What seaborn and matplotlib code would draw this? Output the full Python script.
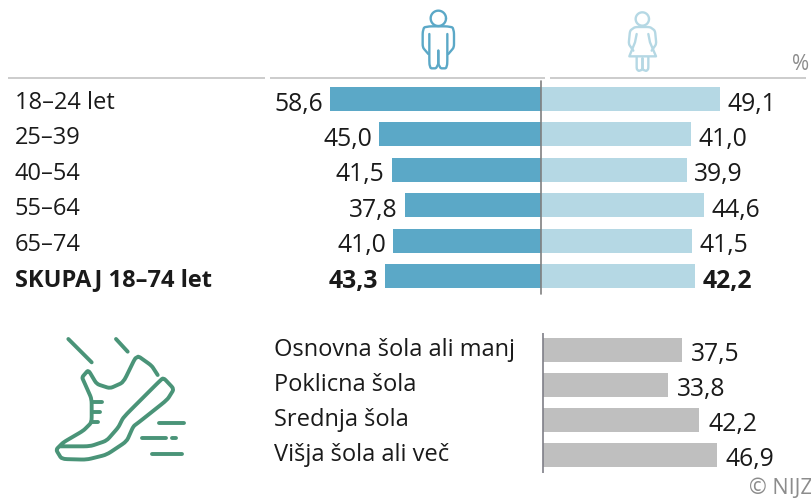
import numpy as np
import pandas as pd
import matplotlib
matplotlib.use("Agg")
import matplotlib.pyplot as plt
from matplotlib.transforms import Affine2D
import seaborn as sns

age_groups = ["18–24 let", "25–39", "40–54", "55–64", "65–74", "SKUPAJ 18–74 let"]
men = [58.6, 45.0, 41.5, 37.8, 41.0, 43.3]
women = [49.1, 41.0, 39.9, 44.6, 41.5, 42.2]
education = ["Osnovna šola ali manj", "Poklicna šola", "Srednja šola", "Višja šola ali več"]
edu_values = [37.5, 33.8, 42.2, 46.9]

W, H = 812, 502
MEN, WOMEN, GREY, TXT = "#5BA8C7", "#B5D8E4", "#BFBFBF", "#1A1A1A"
GREEN = "#4A9478"
FS = 17.0
FSV = 17.8
DPI = 100

sns.set_theme(style="white")
plt.rcParams["font.family"] = ["Open Sans", "DejaVu Sans"]
fig = plt.figure(figsize=(W / DPI, H / DPI), dpi=DPI)


def axes_px(x0, x1, y0, y1):
    return fig.add_axes([x0 / W, 1 - y1 / H, (x1 - x0) / W, (y1 - y0) / H])


def comma(v):
    return f"{v:.1f}".replace(".", ",")


def setup(ax, zero, scale, left, right):
    ax.set_xlim((left - zero) / scale, (right - zero) / scale)
    ax.set_xlabel("")
    ax.set_ylabel("")
    ax.set_xticks([])
    sns.despine(ax=ax, left=True, bottom=True)
    ax.patch.set_alpha(0)
    ax.tick_params(axis="y", left=False, pad=0, labelsize=FS, labelcolor=TXT)
    for t in ax.get_yticklabels():
        t.set_ha("left")


# upper panel: the two halves use their own axes
TOP, BOTTOM, ZERO = 82.3, 294.7, 541
ax = axes_px(23, ZERO, TOP, BOTTOM)
axw = axes_px(ZERO, 806, TOP, BOTTOM)
sns.barplot(y=age_groups, x=-np.array(men), color=MEN, width=0.68, ax=ax, saturation=1, linewidth=0)
sns.barplot(y=age_groups, x=women, color=WOMEN, width=0.68, ax=axw, saturation=1, linewidth=0)
setup(ax, ZERO, 3.6, 23, ZERO)
setup(axw, ZERO, 3.65, ZERO, 806)
axw.tick_params(axis="y", labelleft=False)
ax.get_yticklabels()[-1].set_fontweight("bold")
for lab in ax.get_yticklabels()[:-1]:
    lab.set_fontweight("normal")
axw.axvline(0, color="#808080", lw=1.2, zorder=5, clip_on=False)
for i, (m, f) in enumerate(zip(men, women)):
    weight = "bold" if i == len(men) - 1 else "normal"
    ax.annotate(comma(m), (-m, i), xytext=(-5, -3), textcoords="offset points", ha="right",
                va="center", fontsize=FSV, color=TXT, fontweight=weight, annotation_clip=False)
    axw.annotate(comma(f), (f, i), xytext=(5.4, -3), textcoords="offset points", ha="left",
                 va="center", fontsize=FSV, color=TXT, fontweight=weight, annotation_clip=False)

# lower panel
ax2 = axes_px(282, 806, 333.5, 473.5)
sns.barplot(y=education, x=edu_values, color=GREY, width=0.68, ax=ax2, saturation=1, linewidth=0)
setup(ax2, 543.5, 3.69, 282, 806)
ax2.axvline(0, color="#7F7F88", lw=1.2, zorder=5)
for t in ax2.get_yticklabels():
    t.set_transform(t.get_transform() + Affine2D().translate(0, 4))
for i, v in enumerate(edu_values):
    ax2.annotate(comma(v), (v, i), xytext=(6.6, -2.5), textcoords="offset points", ha="left",
                 va="center", fontsize=FSV, color=TXT)

# overlay in pixel coordinates for rules, icons and notes
px = fig.add_axes([0, 0, 1, 1], zorder=10)
px.set_xlim(0, W)
px.set_ylim(H, 0)
px.axis("off")
for a, b in [(8, 265), (270, 545), (550, 806)]:
    px.plot([a, b], [78.5, 78.5], color="#C4C4C4", lw=1.2, solid_capstyle="butt")
px.text(792, 64, "%", fontsize=15, color="#8C8C8C", ha="left", va="center")
px.text(749, 489, "© NIJZ", fontsize=15.5, color="#8C8C8C", ha="left", va="center", clip_on=False)


def smooth(pts, n=2, cut=0.13):
    p = np.array(pts, float)
    for _ in range(n):
        q = p[:-1] * (1 - cut) + p[1:] * cut
        r = p[:-1] * cut + p[1:] * (1 - cut)
        mid = np.empty((len(q) * 2, 2))
        mid[0::2], mid[1::2] = q, r
        p = np.vstack([p[0], mid, p[-1]])
    return p


def stroke(pts, ox, oy, color, lw, soft=True):
    p = smooth(pts) if soft else np.array(pts, float)
    px.plot(ox + p[:, 0] / 3, oy + p[:, 1] / 3, color=color, lw=lw,
            solid_capstyle="round", solid_joinstyle="round")


def circle(cx, cy, r, ox, oy, color, lw):
    t = np.linspace(0, 2 * np.pi, 80)
    px.plot(ox + (cx + r * np.cos(t)) / 3, oy + (cy + r * np.sin(t)) / 3, color=color, lw=lw)


# man icon
circle(115, 58, 23, 400, 0, MEN, 1.7)
stroke([(85, 165), (68, 145), (68, 100), (72, 85), (90, 82), (140, 82), (158, 85), (162, 100), (162, 145), (145, 165)], 400, 0, MEN, 1.7)
stroke([(88, 105), (88, 195), (92, 208), (108, 208), (115, 195), (115, 155)], 400, 0, MEN, 1.7)
stroke([(142, 105), (142, 195), (138, 208), (122, 208), (115, 195), (115, 155)], 400, 0, MEN, 1.7)

# woman icon
circle(727, 60, 20, 400, 0, WOMEN, 1.7)
stroke([(700, 155), (686, 135), (690, 95), (705, 84), (750, 84), (765, 95), (769, 135), (755, 155)], 400, 0, WOMEN, 1.7)
stroke([(710, 105), (705, 130), (688, 172), (768, 172), (750, 130), (745, 105)], 400, 0, WOMEN, 1.7, soft=False)
stroke([(710, 175), (710, 210), (716, 216), (727, 212), (727, 178)], 400, 0, WOMEN, 1.7)
stroke([(745, 175), (745, 210), (739, 216), (728, 212), (728, 178)], 400, 0, WOMEN, 1.7)

# shoe icon
shoe = [
    [(85, 60), (155, 130)],
    [(228, 60), (263, 98)],
    [(353, 168), (335, 140), (290, 108), (250, 190), (210, 208), (170, 195), (145, 153), (126, 175), (135, 195),
     (155, 240), (155, 310), (130, 335), (70, 370), (48, 392), (65, 420), (140, 422), (200, 407), (260, 367),
     (280, 322), (300, 307), (382, 242), (402, 210), (370, 176), (350, 195), (250, 295), (235, 325), (200, 365),
     (150, 382), (62, 382)],
]
for s in shoe:
    stroke(s, 40, 320, GREEN, 2.8)
for s in [[(155, 248), (185, 248)], [(155, 278), (180, 278)], [(155, 308), (175, 308)],
          [(358, 312), (432, 312)], [(305, 358), (378, 358)], [(395, 358), (408, 358)], [(335, 404), (427, 404)]]:
    stroke(s, 40, 320, GREEN, 2.8, soft=False)

fig.savefig("out.png", dpi=DPI)
